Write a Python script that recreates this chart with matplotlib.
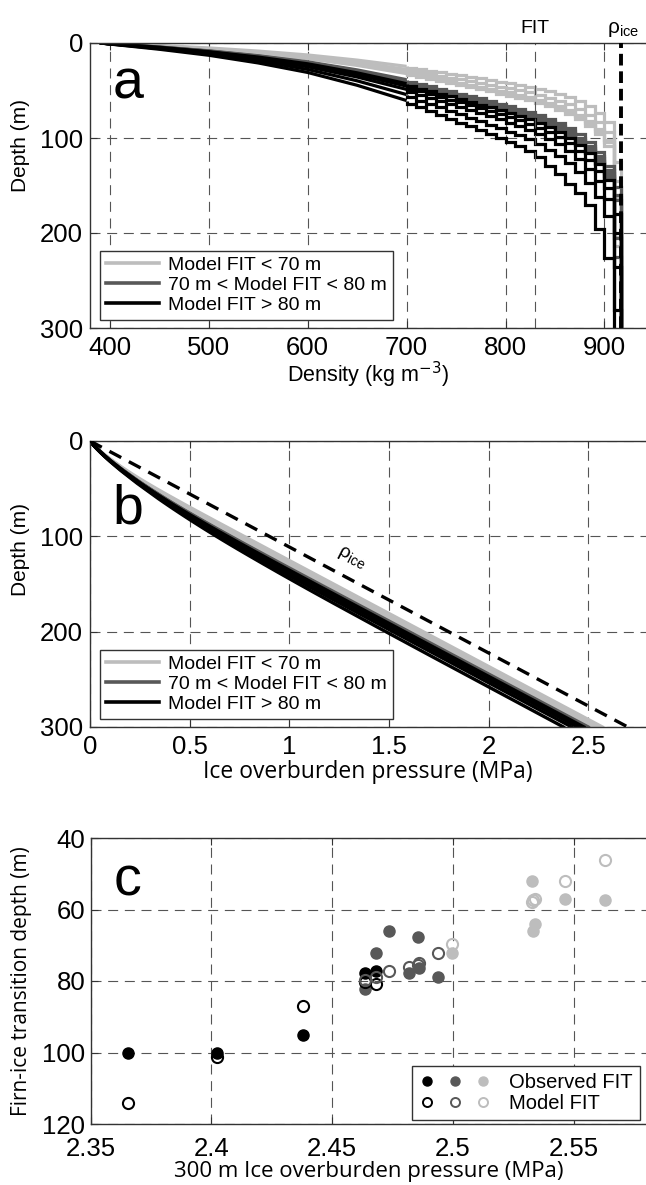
import numpy as np
import matplotlib
matplotlib.use("Agg")
import matplotlib.pyplot as plt
from matplotlib.lines import Line2D
from matplotlib.legend_handler import HandlerTuple

HELV = "Liberation Sans"
MYR = "Open Sans"
plt.rcParams["font.family"] = [HELV, "DejaVu Sans"]

G = 9.81
ICE_DENSITY = 917
FIT_DENSITY = 830

# density levels (kg m-3); each profile gives the depth (m) where it reaches them
DENSITY_LEVELS = [390, 450, 500, 550, 600, 650, 700, 710, 720, 730, 740, 750, 760,
                  770, 780, 790, 800, 810, 820, 830, 840, 850, 860, 870, 880, 890,
                  900, 910, 917]

LIGHT_PROFILES = [
    [0, 2.7, 5.2, 8.5, 12.6, 18.0, 24.6, 26.0, 27.5, 29.0, 30.6, 32.2, 33.9, 35.6, 37.2,
     38.9, 40.6, 42.3, 44.1, 46.0, 48.3, 50.9, 53.8, 57.3, 61.4, 66.7, 73.3, 82.7, 125],
    [0, 3.0, 5.9, 9.6, 14.2, 20.4, 27.8, 29.3, 31.0, 32.8, 34.6, 36.4, 38.3, 40.2, 42.1,
     44.0, 45.9, 47.7, 49.8, 51.9, 54.6, 57.4, 60.8, 64.7, 69.3, 75.3, 82.7, 93.3, 145],
    [0, 3.3, 6.4, 10.5, 15.5, 22.2, 30.3, 32.0, 33.9, 35.8, 37.8, 39.8, 41.8, 43.9, 45.9,
     48.0, 50.1, 52.1, 54.3, 56.7, 59.6, 62.7, 66.4, 70.6, 75.7, 82.2, 90.3, 101.9, 162],
    [0, 3.4, 6.6, 10.7, 15.8, 22.7, 31.0, 32.7, 34.6, 36.5, 38.5, 40.6, 42.7, 44.8, 46.9,
     49.0, 51.1, 53.2, 55.5, 57.9, 60.8, 64.0, 67.7, 72.1, 77.2, 84.0, 92.2, 104.0, 204],
    [0, 3.5, 6.8, 11.2, 16.5, 23.6, 32.2, 34.1, 36.0, 38.0, 40.1, 42.3, 44.5, 46.7, 48.8,
     51.0, 53.2, 55.4, 57.8, 60.3, 63.3, 66.7, 70.5, 75.1, 80.4, 87.4, 96.0, 108.3, 214],
]
DARK_PROFILES = [
    [0, 4.2, 8.2, 13.4, 19.8, 28.3, 38.6, 40.8, 43.1, 45.5, 48.0, 50.6, 53.2, 55.9, 58.4,
     61.1, 63.7, 66.3, 69.2, 72.2, 75.8, 79.8, 84.5, 89.9, 96.3, 104.7, 114.9, 129.7, 152],
    [0, 4.3, 8.5, 13.8, 20.4, 29.2, 39.9, 42.1, 44.6, 47.0, 49.6, 52.3, 55.0, 57.7, 60.4,
     63.1, 65.8, 68.5, 71.4, 74.5, 78.3, 82.4, 87.2, 92.9, 99.5, 108.1, 118.7, 134.0, 160],
    [0, 4.4, 8.6, 14.1, 20.8, 29.9, 40.7, 43.0, 45.5, 48.0, 50.7, 53.4, 56.2, 58.9, 61.6,
     64.4, 67.2, 70.0, 73.0, 76.1, 80.0, 84.2, 89.1, 94.9, 101.6, 110.4, 121.3, 136.8, 165],
    [0, 4.5, 8.8, 14.4, 21.3, 30.5, 41.6, 43.9, 46.5, 49.0, 51.7, 54.5, 57.3, 60.2, 62.9,
     65.8, 68.6, 71.4, 74.5, 77.7, 81.6, 86.0, 90.9, 96.8, 103.7, 112.7, 123.8, 139.7, 205],
    [0, 4.6, 9.0, 14.7, 21.7, 31.1, 42.4, 44.8, 47.4, 50.0, 52.8, 55.6, 58.5, 61.4, 64.2,
     67.1, 70.0, 72.9, 76.0, 79.3, 83.3, 87.7, 92.8, 98.8, 105.8, 115.0, 126.3, 142.5, 225],
]
BLACK_PROFILES = [
    [0, 4.6, 9.1, 14.8, 21.9, 31.4, 42.8, 45.2, 47.9, 50.5, 53.3, 56.2, 59.1, 62.0, 64.8,
     67.8, 70.7, 73.6, 76.8, 80.1, 84.1, 88.6, 93.7, 99.8, 106.9, 116.2, 127.6, 143.9, 180],
    [0, 4.9, 9.6, 15.7, 23.2, 33.3, 45.4, 47.9, 50.7, 53.5, 56.5, 59.5, 62.6, 65.7, 68.7,
     71.8, 74.9, 78.0, 81.3, 84.9, 89.1, 93.8, 99.3, 105.7, 113.2, 123.1, 135.1, 152.5, 200],
    [0, 5.3, 10.4, 16.9, 25.0, 35.8, 48.8, 51.5, 54.5, 57.5, 60.7, 63.9, 67.3, 70.6, 73.8,
     77.2, 80.5, 83.8, 87.4, 91.2, 95.8, 100.9, 106.7, 113.6, 121.7, 132.3, 145.3, 163.9, 236],
    [0, 5.9, 11.5, 18.8, 27.8, 39.8, 54.3, 57.3, 60.7, 64.0, 67.6, 71.2, 74.9, 78.6, 82.2,
     85.9, 89.6, 93.3, 97.3, 101.5, 106.6, 112.3, 118.8, 126.5, 135.4, 147.2, 161.7, 182.4, 281],
    [0, 6.6, 12.9, 21.0, 31.0, 44.5, 60.6, 64.1, 67.8, 71.5, 75.5, 79.5, 83.7, 87.8, 91.8,
     96.0, 100.1, 104.3, 108.7, 113.4, 120.0, 129.0, 138.0, 148.0, 158.0, 170.0, 196.0, 226.0],
]

# panel c: 300 m overburden pressure (MPa), observed and modelled FIT depth (m)
BLACK_P = [2.3654, 2.4023, 2.4381, 2.4637, 2.4681]
BLACK_OBS = [100.0, 100.0, 95.1, 77.8, 77.2]
BLACK_MOD = [114.0, 101.2, 87.0, 80.3, 80.9]
DARK_P = [2.4637, 2.4680, 2.4737, 2.4818, 2.4856, 2.4861, 2.4938]
DARK_OBS = [82.3, 72.2, 66.0, 77.9, 67.8, 76.4, 78.8]
DARK_MOD = [79.8, 78.8, 77.3, 76.0, 75.6, 75.0, 72.2]
LIGHT_P = [2.4998, 2.5326, 2.5330, 2.5340, 2.5465, 2.5632]
LIGHT_OBS = [72.2, 52.0, 66.0, 64.1, 57.0, 57.4]
LIGHT_MOD = [69.6, 57.9, 57.4, 57.0, 52.0, 46.1]

C_LIGHT, C_DARK, C_BLACK = "#bdbdbd", "#585858", "#000000"
GROUPS = [(LIGHT_PROFILES, C_LIGHT), (DARK_PROFILES, C_DARK), (BLACK_PROFILES, C_BLACK)]
LABELS = ["Model FIT < 70 m", "70 m < Model FIT < 80 m", "Model FIT > 80 m"]

W, H = 646, 1185
fig = plt.figure(figsize=(W / 100, H / 100), dpi=100)


def make_axes(top, bottom, left=90):
    return fig.add_axes([left / W, 1 - bottom / H, (W - left) / W, (bottom - top) / H])


def style(ax, xpad=6, ypad=5):
    grid_kw = dict(color="#555555", lw=0.8, ls=(0, (9, 6)))
    ax.grid(True, **grid_kw)
    ax.set_axisbelow(True)
    ax.tick_params(direction="in", length=5, width=0.8, top=True, labelsize=18.5,
                   color="#333333")
    ax.tick_params(axis="x", pad=xpad)
    ax.tick_params(axis="y", pad=ypad)
    for s in ["left", "top", "bottom"]:
        ax.spines[s].set_color("#333333")
        ax.spines[s].set_linewidth(1.0)
    ax.spines["right"].set_visible(False)
    for lab in ax.get_xticklabels() + ax.get_yticklabels():
        lab.set_family(HELV)


def overburden(depths):
    rho = np.array(DENSITY_LEVELS[:len(depths)], float)
    z = np.append(np.array(depths, float), 300.0)
    rho = np.append(rho, rho[-1])
    mass = np.concatenate([[0.0], np.cumsum(0.5 * (rho[1:] + rho[:-1]) * np.diff(z))])
    return mass * G / 1e6, z


def line_legend(ax):
    handles = [Line2D([], [], color=c, lw=2.6) for _, c in GROUPS]
    leg = ax.legend(handles, LABELS, loc="lower left", bbox_to_anchor=(0.018, 0.028),
                    borderaxespad=0, prop={"family": HELV, "size": 14},
                    handlelength=2.75, handletextpad=0.45, labelspacing=0.12,
                    borderpad=0.3, fancybox=False, framealpha=1)
    leg.get_frame().set_edgecolor("#333333")
    leg.get_frame().set_linewidth(1.0)


# ---- panel a
ax = make_axes(43, 328)
for profiles, color in GROUPS:
    for depths in profiles:
        rho = DENSITY_LEVELS[:len(depths)]
        ax.plot(rho[:7], depths[:7], color=color, lw=2.3, solid_capstyle="butt")
        ax.stairs(rho[6:], list(depths[6:]) + [300], orientation="horizontal",
                  baseline=None, color=color, lw=2.3)
ax.axvline(FIT_DENSITY, color="#555555", lw=0.8, ls=(0, (9, 6)))
ax.axvline(ICE_DENSITY, color="k", lw=2.8, ls=(0, (3.0, 1.5)), zorder=5)
ax.set_xlim(380, 942)
ax.set_ylim(300, 0)
ax.set_xticks([400, 500, 600, 700, 800, 900])
ax.set_yticks([0, 100, 200, 300])
style(ax)
ax.set_xlabel(r"Density (kg m$^{-3}$)", fontsize=15.5, family=HELV)
ax.xaxis.set_label_coords(0.5, -0.11)
ax.set_ylabel("Depth (m)", fontsize=15, family=HELV)
ax.yaxis.set_label_coords(-0.108, 0.64)
ax.text(0.04, 0.807, "a", transform=ax.transAxes, fontsize=40, family=HELV,
        va="baseline")
ax.annotate("FIT", (FIT_DENSITY, 1.035), xycoords=("data", "axes fraction"),
            ha="center", va="baseline", fontsize=14, family=HELV)
ax.annotate(r"$\mathregular{\rho_{ice}}$", (ICE_DENSITY + 2, 1.035),
            xycoords=("data", "axes fraction"), ha="center", va="baseline",
            fontsize=15, family=HELV)
line_legend(ax)

# ---- panel b
ax = make_axes(441, 727)
for profiles, color in GROUPS:
    for depths in profiles:
        p, z = overburden(depths)
        ax.plot(p, z, color=color, lw=2.4)
ice_p = [0, ICE_DENSITY * G * 300 / 1e6]
ax.plot(ice_p, [0, 300], color="k", lw=2.4, ls=(0, (4, 2.6)), zorder=5)
ax.set_xlim(0, 2.79)
ax.set_ylim(300, 0)
ax.set_xticks([0, 0.5, 1, 1.5, 2, 2.5])
ax.set_xticklabels(["0", "0.5", "1", "1.5", "2", "2.5"])
ax.set_yticks([0, 100, 200, 300])
style(ax)
ax.set_xlabel("Ice overburden pressure (MPa)", fontsize=16.5, family=MYR)
ax.xaxis.set_label_coords(0.5, -0.115)
ax.set_ylabel("Depth (m)", fontsize=15, family=HELV)
ax.yaxis.set_label_coords(-0.108, 0.62)
ax.text(0.04, 0.713, "b", transform=ax.transAxes, fontsize=40, family=HELV,
        va="baseline")
ax.text(1.31, 123, r"$\mathregular{\rho_{ice}}$", fontsize=14, family=HELV,
        rotation=-27, ha="center", va="center")
line_legend(ax)

# ---- panel c
ax = make_axes(838, 1124, left=90.7)
for pres, obs, mod, color in [(BLACK_P, BLACK_OBS, BLACK_MOD, C_BLACK),
                              (DARK_P, DARK_OBS, DARK_MOD, C_DARK),
                              (LIGHT_P, LIGHT_OBS, LIGHT_MOD, C_LIGHT)]:
    ax.plot(pres, obs, ls="none", marker="o", ms=8, mfc=color, mec=color, zorder=3)
for pres, obs, mod, color in [(BLACK_P, BLACK_OBS, BLACK_MOD, C_BLACK),
                              (DARK_P, DARK_OBS, DARK_MOD, C_DARK),
                              (LIGHT_P, LIGHT_OBS, LIGHT_MOD, C_LIGHT)]:
    ax.plot(pres, mod, ls="none", marker="o", ms=8, mfc="none", mec=color, mew=1.5,
            zorder=4)
ax.set_xlim(2.35, 2.58)
ax.set_ylim(120, 40)
ax.set_xticks([2.35, 2.4, 2.45, 2.5, 2.55])
ax.set_xticklabels(["2.35", "2.4", "2.45", "2.5", "2.55"])
ax.set_yticks([40, 60, 80, 100, 120])
style(ax, xpad=9, ypad=4)
ax.set_xlabel("300 m Ice overburden pressure (MPa)", fontsize=16, family=MYR)
ax.xaxis.set_label_coords(0.5, -0.13)
ax.set_ylabel("Firn-ice transition depth (m)", fontsize=15, family=MYR)
ax.yaxis.set_label_coords(-0.106, 0.5)
ax.text(0.041, 0.80, "c", transform=ax.transAxes, fontsize=40, family=HELV,
        va="baseline")
colors = [C_BLACK, C_DARK, C_LIGHT]
obs_h = tuple(Line2D([], [], ls="none", marker="o", ms=6.5, mfc=c, mec=c) for c in colors)
mod_h = tuple(Line2D([], [], ls="none", marker="o", ms=6.5, mfc="none", mec=c, mew=1.4)
              for c in colors)
leg = ax.legend([obs_h, mod_h], ["Observed FIT", "Model FIT"], loc="lower right",
                bbox_to_anchor=(0.989, 0.014), borderaxespad=0,
                handler_map={tuple: HandlerTuple(ndivide=None, pad=0.6)},
                prop={"family": HELV, "size": 14.5}, handlelength=3.6,
                handletextpad=0.9, labelspacing=0.1, borderpad=0.35,
                fancybox=False, framealpha=1)
leg.get_frame().set_edgecolor("#333333")
leg.get_frame().set_linewidth(1.0)

fig.savefig("out.png", dpi=100)
